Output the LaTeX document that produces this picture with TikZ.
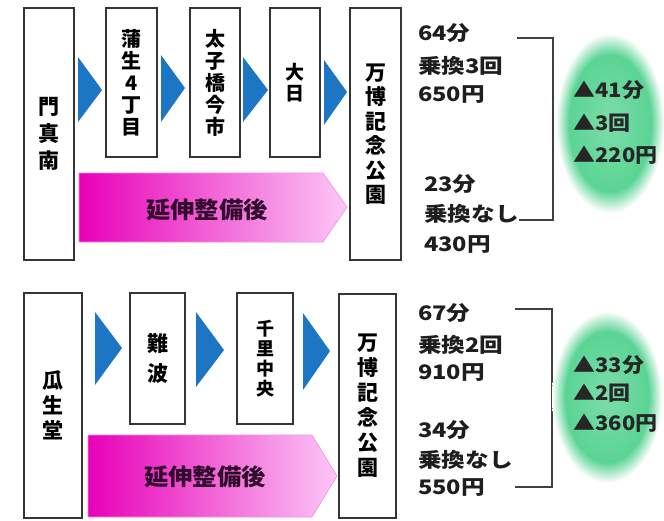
\documentclass[tikz,border=0pt]{standalone}
\usepackage{fontspec}
\setmainfont{Noto Sans CJK JP}
\newfontfamily\widejp{Noto Sans CJK JP}[FakeStretch=1.18]
\newfontfamily\gainjp{Noto Sans CJK JP}[FakeStretch=1.1]
\newfontfamily\semiwidejp{Noto Sans CJK JP}[FakeStretch=1.06]
\definecolor{glowgreen}{RGB}{90,212,148}
\definecolor{chev}{RGB}{28,118,196}
\definecolor{pinkdeep}{RGB}{232,0,184}
\definecolor{pinklight}{RGB}{252,200,246}
\definecolor{pinktext}{RGB}{50,10,45}
\definecolor{ink}{RGB}{30,30,30}
\pgfdeclareradialshading{glow}{\pgfpointorigin}{color(0bp)=(glowgreen!80!white); color(8bp)=(glowgreen!88!white); color(19bp)=(glowgreen); color(25bp)=(white); color(50bp)=(white)}
\begin{document}
\begin{tikzpicture}[x=1pt,y=-1pt,
  station/.style={draw=ink!90, line width=1.3pt, fill=white, inner sep=0pt, align=center, text=black},
  vfont/.style n args={2}{font=\bfseries\fontsize{#1}{#2}\selectfont},
  chevron/.style={fill=chev},
  extarrow/.style={left color=pinkdeep, right color=pinklight, draw=pinklight!70!pinkdeep, line width=0.6pt},
  exttext/.style={font=\semiwidejp\bfseries\fontsize{23}{24}\selectfont, text=pinktext, inner sep=0pt},
  info/.style={anchor=west, font=\widejp\bfseries\fontsize{20}{21}\selectfont, text=ink, inner sep=0pt},
  gain/.style={anchor=west, font=\gainjp\bfseries\fontsize{20}{21}\selectfont, text=black!85, inner sep=0pt},
  bracket/.style={draw=ink!85, line width=1.4pt}]
\useasboundingbox (0,0) rectangle (664,520);
\fill[white] (0,0) rectangle (664,520);

% ---------- top route ----------
\node[station, minimum width=50pt, minimum height=252pt, vfont={21}{27}] (kadoma) at (49,134) {門\\真\\南};
\node[station, minimum width=51pt, minimum height=149pt, vfont={20}{22}] (gamo) at (131.5,82.5) {蒲\\生\\4\\丁\\目};
\node[station, minimum width=50pt, minimum height=149pt, vfont={20}{22}] (taishi) at (215,82.5) {太\\子\\橋\\今\\市};
\node[station, minimum width=50pt, minimum height=149pt, vfont={19}{21}] (dainichi) at (295,82.5) {大\\日};
\node[station, minimum width=51pt, minimum height=252pt, vfont={21}{24.5}] (banpaku1) at (375.5,134) {万\\博\\記\\念\\公\\園};

\fill[chevron] (78,57) -- (102,90) -- (78,122) -- cycle;
\fill[chevron] (161,55) -- (185,88) -- (161,122) -- cycle;
\fill[chevron] (243,57) -- (268,90) -- (243,122) -- cycle;
\fill[chevron] (324,60) -- (347,92) -- (324,125) -- cycle;

\shade[extarrow] (79,173) -- (323,173) -- (347,207) -- (323,242) -- (79,242) -- cycle;
\node[exttext] (ext1) at (207,210) {延伸整備後};

\node[info] (t1a) at (418,33) {64分};
\node[info] (t1b) at (418,66) {乗換3回};
\node[info] (t1c) at (418,95) {650円};
\node[info] (t1d) at (424,184) {23分};
\node[info] (t1e) at (424,214) {乗換なし};
\node[info] (t1f) at (424,245) {430円};

\coordinate (br1a) at (517,38);
\coordinate (br1b) at (553,38);
\coordinate (br1c) at (553,220);
\coordinate (br1d) at (t1e.east |- 0,220);
\draw[bracket] (br1a) -- (br1b) -- (br1c) -- (br1d);

\shade[shading=glow] (610,123) ellipse [x radius=54pt, y radius=90pt];
\node[gain] (g1a) at (573,90) {▲41分};
\node[gain] (g1b) at (573,123) {▲3回};
\node[gain] (g1c) at (573,155) {▲220円};

% ---------- bottom route ----------
\node[station, minimum width=58pt, minimum height=225pt, vfont={21}{25}] (uryudo) at (53,405.5) {瓜\\生\\堂};
\node[station, minimum width=55pt, minimum height=131pt, vfont={21}{30}] (namba) at (157.5,358.5) {難\\波};
\node[station, minimum width=56pt, minimum height=131pt, vfont={18}{20}] (senri) at (265,358.5) {千\\里\\中\\央};
\node[station, minimum width=57pt, minimum height=224pt, vfont={21}{25}] (banpaku2) at (367.5,406) {万\\博\\記\\念\\公\\園};

\fill[chevron] (95,312) -- (122,348) -- (95,385) -- cycle;
\fill[chevron] (196,312) -- (224,350) -- (196,387) -- cycle;
\fill[chevron] (303,313) -- (330,351) -- (303,390) -- cycle;

\shade[extarrow] (88,435) -- (312,435) -- (337,476) -- (312,517) -- (88,517) -- cycle;
\node[exttext] (ext2) at (205,477) {延伸整備後};

\node[info] (t2a) at (418,313) {67分};
\node[info] (t2b) at (418,345) {乗換2回};
\node[info] (t2c) at (418,373) {910円};
\node[info] (t2d) at (418,430) {34分};
\node[info] (t2e) at (418,460) {乗換なし};
\node[info] (t2f) at (418,488) {550円};

\coordinate (br2a) at (515,309);
\coordinate (br2b) at (552,309);
\coordinate (br2c) at (552,487);
\coordinate (br2d) at (515,487);
\draw[bracket] (br2a) -- (br2b) -- (br2c) -- (br2d);

\shade[shading=glow] (607,397) ellipse [x radius=55pt, y radius=86pt];
\node[gain] (g2a) at (573,365) {▲33分};
\node[gain] (g2b) at (573,393) {▲2回};
\node[gain] (g2c) at (573,423) {▲360円};
\end{tikzpicture}
\end{document}
